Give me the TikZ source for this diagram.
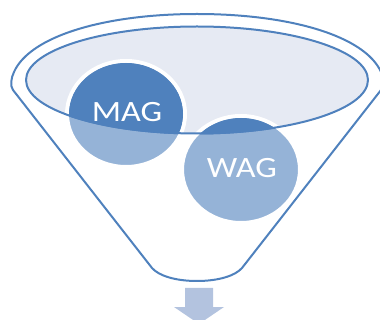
\documentclass[tikz,border=0pt]{standalone}
\usepackage{fontspec}
\setmainfont{Carlito}
\newfontface\ballfont[FakeStretch=1.16]{Carlito}
\definecolor{funnelblue}{HTML}{4F81BD}
\definecolor{balllight}{HTML}{95B3D7}
\definecolor{mouthfill}{HTML}{E6EAF3}
\definecolor{arrowfill}{HTML}{B3C3DF}
\tikzset{
  funnelline/.style={draw=funnelblue,line width=2pt,line join=round},
  ballring/.style={fill=balllight,draw=white,line width=4pt},
  balllabel/.style={text=white,font=\ballfont\fontsize{29.5pt}{30pt}\selectfont,inner sep=0pt}
}
\begin{document}
\begin{tikzpicture}[x=1pt,y=-1pt]
\useasboundingbox (0,0) rectangle (380,320);
\clip (0,0) rectangle (380,320);
% down arrow
\fill[arrowfill] (185,288) -- (213,288) -- (213,307) -- (224,307) -- (199,324) -- (174,307) -- (185,307) -- cycle;
% funnel body
\draw[funnelline] (13,90) .. controls (10,86) and (11,78) .. (14,72)
  .. controls (30,36) and (105,14) .. (197,14)
  .. controls (290,14) and (365,36) .. (381,72)
  .. controls (382,78) and (383,86) .. (381,90)
  -- (242,268) .. controls (235,276) and (218,281) .. (197,281)
  .. controls (176,281) and (159,276) .. (152,268) -- cycle;
% mouth
\fill[mouthfill] (197,80) ellipse [x radius=171,y radius=53.5];
% balls
\path[ballring] (126,114) coordinate (mag) ellipse [x radius=59,y radius=53];
\path[ballring] (241,169.5) coordinate (wag) ellipse [x radius=59,y radius=53.5];
\draw[funnelline] (197,80) ellipse [x radius=171,y radius=53.5];
% part of the balls inside the mouth
\begin{scope}
  \clip (197,80) ellipse [x radius=172,y radius=54.5];
  \fill[funnelblue] (mag) ellipse [x radius=57,y radius=51];
  \fill[funnelblue] (wag) ellipse [x radius=57,y radius=51.5];
\end{scope}
\node[balllabel] (magtext) at (127,112.5) {MAG};
\node[balllabel] (wagtext) at (242,168) {WAG};
\end{tikzpicture}
\end{document}
